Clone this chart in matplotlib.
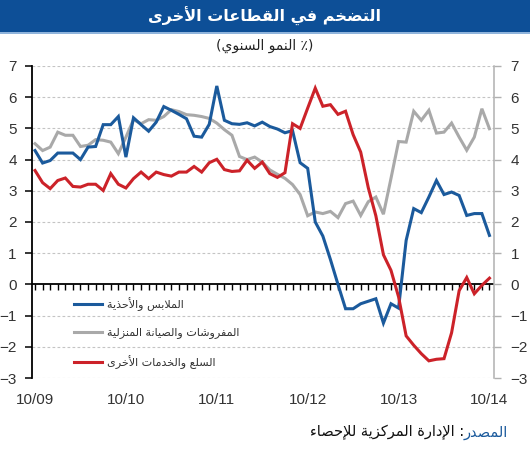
import matplotlib
matplotlib.use("Agg")
import matplotlib.pyplot as plt
from matplotlib.patches import Rectangle
from matplotlib.ticker import FixedLocator

# ---------------- data (monthly, Oct 2009 .. Oct 2014) ----------------
tick_labels = ["10/09", "10/10", "10/11", "10/12", "10/13", "10/14"]

clothing = [4.29, 3.89, 3.97, 4.21, 4.21, 4.21, 4.00, 4.40, 4.42, 5.12,
            5.12, 5.38, 4.08, 5.34, 5.12, 4.91, 5.20, 5.70, 5.58, 5.45,
            5.31, 4.75, 4.72, 5.13, 6.36, 5.26, 5.15, 5.13, 5.18, 5.08,
            5.20, 5.06, 4.98, 4.86, 4.93, 3.90, 3.72, 2.00, 1.55, 0.80,
            0.00, -0.78, -0.78, -0.62, -0.54, -0.46, -1.24, -0.62, -0.76, 1.41,
            2.43, 2.30, 2.80, 3.33, 2.88, 2.96, 2.85, 2.21, 2.27, 2.27,
            1.57]

furnishings = [4.51, 4.29, 4.40, 4.88, 4.78, 4.78, 4.42, 4.46, 4.64, 4.62,
               4.56, 4.19, 4.72, 5.28, 5.15, 5.28, 5.26, 5.38, 5.60, 5.54,
               5.44, 5.42, 5.38, 5.32, 5.17, 4.96, 4.78, 4.10, 4.00, 4.08,
               3.92, 3.67, 3.53, 3.40, 3.20, 2.88, 2.20, 2.32, 2.27, 2.34,
               2.14, 2.59, 2.67, 2.21, 2.65, 2.80, 2.25, 3.40, 4.58, 4.56,
               5.55, 5.26, 5.58, 4.85, 4.88, 5.17, 4.72, 4.30, 4.72, 5.63,
               4.99]

other = [3.65, 3.26, 3.07, 3.33, 3.41, 3.14, 3.12, 3.21, 3.21, 3.01,
         3.55, 3.21, 3.09, 3.39, 3.60, 3.39, 3.60, 3.52, 3.47, 3.60,
         3.60, 3.78, 3.60, 3.90, 4.01, 3.68, 3.62, 3.64, 3.98, 3.72,
         3.92, 3.55, 3.43, 3.58, 5.15, 5.00, 5.65, 6.29, 5.71, 5.76,
         5.45, 5.55, 4.80, 4.24, 3.10, 2.20, 0.95, 0.45, -0.40, -1.65,
         -1.95, -2.22, -2.45, -2.40, -2.38, -1.55, -0.20, 0.22, -0.30, -0.03,
         0.20]

months = list(range(len(clothing)))

title = "التضخم في القطاعات الأخرى"
subtitle = "النمو السنوي"
legend_labels = ["الملابس والأحذية", "المفروشات والصيانة المنزلية", "السلع والخدمات الأخرى"]
source_label = "المصدر"
source_text = "الإدارة المركزية للإحصاء"

# ---------------- minimal Arabic shaping (presentation forms + RTL) ----------------
_DUAL = {'ئ': 0xFE89, 'ب': 0xFE8F, 'ت': 0xFE95, 'ث': 0xFE99, 'ج': 0xFE9D, 'ح': 0xFEA1,
         'خ': 0xFEA5, 'س': 0xFEB1, 'ش': 0xFEB5, 'ص': 0xFEB9, 'ض': 0xFEBD, 'ط': 0xFEC1,
         'ظ': 0xFEC5, 'ع': 0xFEC9, 'غ': 0xFECD, 'ف': 0xFED1, 'ق': 0xFED5, 'ك': 0xFED9,
         'ل': 0xFEDD, 'م': 0xFEE1, 'ن': 0xFEE5, 'ه': 0xFEE9, 'ي': 0xFEF1}
_RIGHT = {'آ': 0xFE81, 'أ': 0xFE83, 'ؤ': 0xFE85, 'إ': 0xFE87, 'ا': 0xFE8D, 'ة': 0xFE93,
          'د': 0xFEA9, 'ذ': 0xFEAB, 'ر': 0xFEAD, 'ز': 0xFEAF, 'و': 0xFEED, 'ى': 0xFEEF}
_LAMALEF = {'آ': 0xFEF5, 'أ': 0xFEF7, 'إ': 0xFEF9, 'ا': 0xFEFB}


def shape(text):
    toks = []
    i = 0
    while i < len(text):
        c = text[i]
        if c == 'ل' and i + 1 < len(text) and text[i + 1] in _LAMALEF:
            toks.append(('R', _LAMALEF[text[i + 1]]))
            i += 2
            continue
        if c in _DUAL:
            toks.append(('D', _DUAL[c]))
        elif c in _RIGHT:
            toks.append(('R', _RIGHT[c]))
        elif c == 'ء':
            toks.append(('N', 0xFE80))
        else:
            toks.append(('X', c))
        i += 1
    out = []
    for k, (t, v) in enumerate(toks):
        if t == 'X':
            out.append(v)
            continue
        if t == 'N':
            out.append(chr(v))
            continue
        prev_j = k > 0 and toks[k - 1][0] == 'D'
        next_j = t == 'D' and k + 1 < len(toks) and toks[k + 1][0] in ('D', 'R')
        if prev_j and next_j:
            off = 3
        elif prev_j:
            off = 1
        elif next_j:
            off = 2
        else:
            off = 0
        out.append(chr(v + off))
    return ''.join(reversed(out))


AR = ['DejaVu Sans']
NUM = ['Liberation Sans', 'DejaVu Sans']

# ---------------- figure ----------------
W, H = 530, 450
fig = plt.figure(figsize=(W / 100, H / 100), dpi=100)

# title banner
fig.patches.append(Rectangle((0, 1 - 32 / H), 1, 32 / H, transform=fig.transFigure,
                             facecolor='#0d4f97', edgecolor='none', zorder=0))
fig.patches.append(Rectangle((0, 1 - 33.5 / H), 1, 1.5 / H, transform=fig.transFigure,
                             facecolor='#8fb4dc', edgecolor='none', zorder=0))
fig.text(0.5, 1 - 16 / H, shape(title), ha='center', va='center', color='white',
         fontsize=11.5, fontweight='bold', family=AR)
fig.text(0.5, 1 - 46 / H, "(" + shape(subtitle) + " ٪)", ha='center', va='center',
         color='#222222', fontsize=10, family=AR)

ax = fig.add_axes([32 / W, 1 - 378 / H, (494 - 32) / W, (378 - 66) / H])
ymin, ymax = -3, 7
ax.set_ylim(ymin, ymax)
ax.set_xlim(-0.4, 60.6)

# grid
for yv in range(ymin, ymax + 1):
    if yv != 0:
        ax.axhline(yv, color='#c4c4c4', lw=0.8, ls=(0, (2.5, 2)), zorder=0)
ax.axhline(0, color='black', lw=1.3, zorder=1)

colors = {'clothing': '#1b5a9c', 'furn': '#a9a9a9', 'other': '#cc2229'}
lf, = ax.plot(months, furnishings, color=colors['furn'], lw=2.2, zorder=2,
              solid_joinstyle='miter')
lc, = ax.plot(months, clothing, color=colors['clothing'], lw=2.2, zorder=3,
              solid_joinstyle='miter')
lo, = ax.plot(months, other, color=colors['other'], lw=2.2, zorder=4,
              solid_joinstyle='miter')

# spines
for s in ['top', 'right', 'bottom']:
    ax.spines[s].set_visible(False)
ax.spines['left'].set_color('black')
ax.spines['left'].set_linewidth(1.3)

ax.set_yticks(range(ymin, ymax + 1))
ax.tick_params(axis='y', direction='out', length=5, width=1.1, color='black',
               labelsize=11, labelcolor='#333333', pad=6)
ax.set_xticks(list(range(0, 61, 12)))
ax.set_xticklabels(tick_labels)
ax.tick_params(axis='x', length=0, labelsize=11, labelcolor='#333333', pad=11)
for lab in ax.get_xticklabels() + ax.get_yticklabels():
    lab.set_family(NUM)

# right axis
ax2 = ax.twinx()
ax2.set_ylim(ymin, ymax)
for s in ['top', 'left', 'bottom']:
    ax2.spines[s].set_visible(False)
ax2.spines['right'].set_color('#b0b0b0')
ax2.spines['right'].set_linewidth(1.1)
ax2.set_yticks(range(ymin, ymax + 1))
ax2.tick_params(axis='y', direction='out', length=5, width=1.0, color='#b0b0b0',
                labelsize=11, labelcolor='#333333', pad=7)
for lab in ax2.get_yticklabels():
    lab.set_family(NUM)

# monthly ticks along the zero line
sec = ax.secondary_xaxis((0 - ymin) / (ymax - ymin))
sec.xaxis.set_major_locator(FixedLocator(months))
sec.tick_params(axis='x', direction='out', length=4, width=1.0, color='black',
                labelbottom=False)
sec.spines['bottom'].set_visible(False)

# legend
leg = ax.legend([lc, lf, lo], [shape(t) for t in legend_labels],
                loc='upper left', bbox_to_anchor=(0.09, 0.26), frameon=False,
                fontsize=8, handlelength=2.6, handletextpad=0.4, labelspacing=1.5,
                borderaxespad=0, borderpad=0)
for t in leg.get_texts():
    t.set_family(AR)
    t.set_color('#333333')

# source
src_blue = fig.text(508 / W, 1 - 432 / H, shape(source_label), ha='right', va='center',
                    color='#1b5a9c', fontsize=10.5, family=AR)
fig.canvas.draw()
bb = src_blue.get_window_extent(renderer=fig.canvas.get_renderer())
fig.text((bb.x0 + 1) / W, 1 - 432 / H, shape(source_text) + " :", ha='right', va='center',
         color='#111111', fontsize=10.5, family=AR)

fig.savefig("out.png", dpi=100)
